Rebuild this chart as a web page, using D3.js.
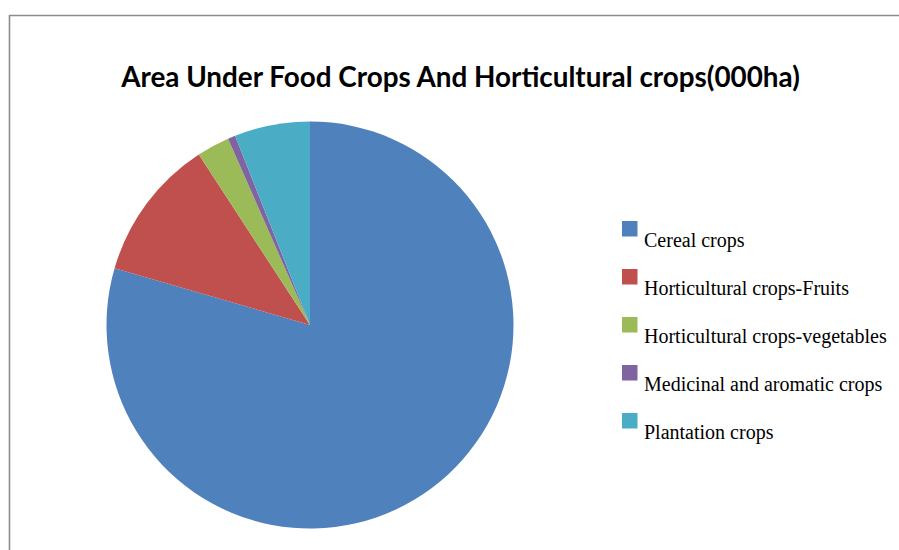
<!DOCTYPE html>
<html>
<head>
<meta charset="utf-8">
<script src="https://cdn.jsdelivr.net/npm/d3@7"></script>
<style>
  body { margin: 0; background: #fff; }
  svg { display: block; }
</style>
</head>
<body>
<div id="chart"></div>
<script>
// Chart data (share of area)
var categories = ["Cereal crops", "Horticultural crops-Fruits", "Horticultural crops-vegetables",
                  "Medicinal and aromatic crops", "Plantation crops"];
var values = [79.5, 11.3, 2.6, 0.6, 6.0];
var colors = ["#4F81BD", "#C0504D", "#9BBB59", "#8064A2", "#4BACC6"];
var title = "Area Under Food Crops And Horticultural crops(000ha)";

var width = 899;
var height = 550;

var svg = d3.select("#chart")
    .append("svg")
    .attr("width", width)
    .attr("height", height);

// Outer frame (runs off the right and bottom edges)
svg.append("path")
    .attr("d", "M9.5," + (height + 5) + "V15.5H" + (width + 5))
    .attr("fill", "none")
    .attr("stroke", "#8c8c8c")
    .attr("stroke-width", 1.6);

// Title
var titleText = svg.append("text")
    .attr("x", 460.5)
    .attr("y", 87)
    .attr("text-anchor", "middle")
    .style("font-family", "Lato, 'Open Sans', sans-serif")
    .style("font-weight", "bold")
    .style("font-size", "26px")
    .style("fill", "#000")
    .text(title);

// fit the title to its width in the picture
var tw = titleText.node().getComputedTextLength();
if (tw > 0) titleText.style("font-size", (26 * 679 / tw) + "px");

// Pie
var cx = 310, cy = 325, radius = 203.5;

var data = categories.map(function (c, i) {
    return { name: c, value: values[i], color: colors[i] };
});

var pie = d3.pie()
    .sort(null)
    .value(function (d) { return d.value; });

var arc = d3.arc()
    .innerRadius(0)
    .outerRadius(radius);

var pieG = svg.append("g")
    .attr("transform", "translate(" + cx + "," + cy + ")");

pieG.selectAll("path")
    .data(pie(data))
    .enter()
    .append("path")
    .attr("d", arc)
    .attr("fill", function (d) { return d.data.color; });

// Legend
var legendY = d3.scaleBand()
    .domain(categories)
    .range([221, 221 + 48 * categories.length]);

var legend = svg.append("g");

var item = legend.selectAll("g")
    .data(data)
    .enter()
    .append("g")
    .attr("transform", function (d) { return "translate(622," + legendY(d.name) + ")"; });

item.append("rect")
    .attr("width", 15.5)
    .attr("height", 15.5)
    .attr("fill", function (d) { return d.color; });

item.append("text")
    .attr("x", 22)
    .attr("y", 25.7)
    .style("font-family", "'Liberation Serif', 'Times New Roman', serif")
    .style("font-size", "20px")
    .style("fill", "#000")
    .text(function (d) { return d.name; });
</script>
</body>
</html>
